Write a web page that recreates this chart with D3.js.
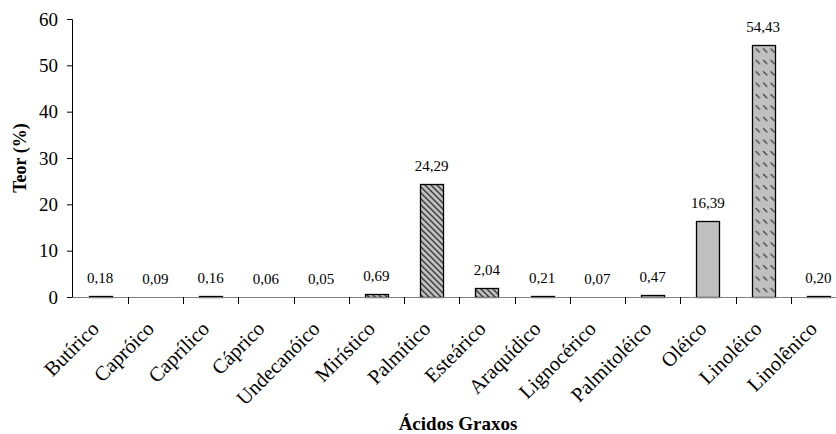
<!DOCTYPE html>
<html>
<head>
<meta charset="utf-8">
<script src="https://cdn.jsdelivr.net/npm/d3@7"></script>
<style>
  html, body { margin: 0; padding: 0; background: #fff; }
  svg { display: block; }
</style>
</head>
<body>
<svg id="chart" width="836" height="434"></svg>
<script>
// Fatty acid composition (%)
const categories = ["Butírico", "Capróico", "Caprílico", "Cáprico", "Undecanóico", "Mirístico",
  "Palmítico", "Esteárico", "Araquídico", "Lignocérico", "Palmitoléico", "Oléico", "Linoléico", "Linolênico"];
const values = [0.18, 0.09, 0.16, 0.06, 0.05, 0.69, 24.29, 2.04, 0.21, 0.07, 0.47, 16.39, 54.43, 0.20];
// fill style per acid: saturated, monounsaturated, polyunsaturated
const groups = ["sat", "sat", "sat", "sat", "sat", "sat", "sat", "sat", "sat", "sat", "mono", "mono", "poly", "poly"];
const yTicks = [0, 10, 20, 30, 40, 50, 60];
const yTitle = "Teor (%)";
const xTitle = "Ácidos Graxos";

const FONT = "\"Liberation Serif\"";
const svg = d3.select("#chart");
const x0 = 72.5, x1 = 846, yTop = 19, yBase = 297;

const x = d3.scaleBand().domain(categories).range([x0, x1]).paddingInner(0.584).paddingOuter(0.292);
const y = d3.scaleLinear().domain([0, 60]).range([yBase, yTop]);

const defs = svg.append("defs");
// dense downward diagonal hatch
const hatch = defs.append("pattern").attr("id", "hatch").attr("patternUnits", "userSpaceOnUse")
  .attr("width", 6).attr("height", 6);
hatch.append("rect").attr("width", 6).attr("height", 6).attr("fill", "#c0c0c0");
hatch.append("path").attr("d", "M-1,-1 L7,7 M-4,2 L1,7 M2,-4 L7,1")
  .attr("stroke", "#3a3a3a").attr("stroke-width", 1.4);
// dashed downward diagonal
const dash = defs.append("pattern").attr("id", "dash").attr("patternUnits", "userSpaceOnUse")
  .attr("width", 7.4).attr("height", 11.4);
dash.append("rect").attr("width", 7.4).attr("height", 11.4).attr("fill", "#c0c0c0");
dash.append("path").attr("d", "M1,3 L5,7")
  .attr("stroke", "#2a2a2a").attr("stroke-width", 1.2);

const fillFor = g => g === "sat" ? "url(#hatch)" : g === "poly" ? "url(#dash)" : "#c0c0c0";
// bar heights snapped to whole pixels
const barH = v => Math.round(yBase - y(v));

// bars
svg.append("g").selectAll("rect").data(categories).join("rect")
  .attr("x", d => Math.round(x(d)) + 0.5)
  .attr("width", Math.round(x.bandwidth()))
  .attr("y", (d, i) => yBase - barH(values[i]) + 0.5)
  .attr("height", (d, i) => barH(values[i]))
  .attr("fill", (d, i) => fillFor(groups[i]))
  .attr("stroke", "#000").attr("stroke-width", 1.3);

// value labels
const fmt = v => d3.format(".2f")(v).replace(".", ",");
svg.append("g").selectAll("text").data(categories).join("text")
  .attr("x", d => x(d) + x.bandwidth() / 2)
  .attr("y", (d, i) => y(values[i]) - 13)
  .attr("text-anchor", "middle")
  .style("font-family", FONT)
  .attr("font-size", 15)
  .text((d, i) => fmt(values[i]));

// y axis
const yAxis = svg.append("g").attr("transform", `translate(${x0 - 0.5},0)`)
  .call(d3.axisLeft(y).tickValues(yTicks).tickSize(5).tickPadding(9));
yAxis.attr("font-family", null);
yAxis.select(".domain").attr("stroke", "#000");
yAxis.selectAll(".tick line").attr("stroke", "#000");
yAxis.selectAll(".tick text").attr("font-size", 19).style("font-family", FONT).attr("fill", "#000");

// x axis: line and ticks at category boundaries
const step = x.step();
const boundaries = d3.range(1, categories.length).map(i => x0 + i * step);
svg.append("line").attr("x1", x0).attr("x2", x1).attr("y1", yBase + 0.5).attr("y2", yBase + 0.5)
  .attr("stroke", "#808080").attr("stroke-width", 1.2);
svg.append("g").selectAll("line").data(boundaries).join("line")
  .attr("x1", d => Math.round(d) + 0.5).attr("x2", d => Math.round(d) + 0.5)
  .attr("y1", yBase).attr("y2", yBase + 7)
  .attr("stroke", "#000");

// category labels
svg.append("g").selectAll("text").data(categories).join("text")
  .attr("transform", d => `translate(${x(d) + x.bandwidth() / 2},${330}) rotate(-45)`)
  .attr("text-anchor", "end")
  .style("font-family", FONT)
  .attr("font-size", 20.5)
  .text(d => d);

// axis titles
svg.append("text")
  .attr("transform", `translate(26,${(yTop + yBase) / 2}) rotate(-90)`)
  .attr("text-anchor", "middle").attr("font-size", 18).attr("font-weight", "bold")
  .style("font-family", FONT)
  .text(yTitle);
svg.append("text")
  .attr("x", 458).attr("y", 430)
  .attr("text-anchor", "middle").attr("font-size", 19).attr("font-weight", "bold")
  .style("font-family", FONT)
  .text(xTitle);
</script>
</body>
</html>
